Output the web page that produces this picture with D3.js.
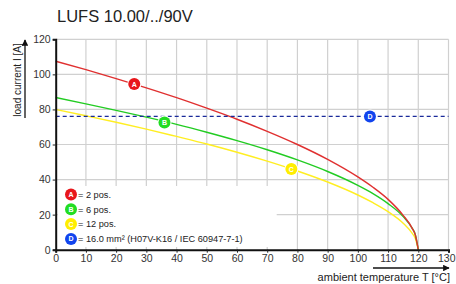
<!DOCTYPE html>
<html><head><meta charset="utf-8">
<script src="https://cdn.jsdelivr.net/npm/d3@7"></script>
<style>body{margin:0;background:#fff;}svg{display:block;font-family:"Liberation Sans",Arial,sans-serif;}</style>
</head><body>
<svg id="c" width="456" height="284"></svg>
<script>
const temps = [0,10,20,30,40,50,60,70,80,90,100,105,110,115,118,119,120];
const red    = [107.5,102.7,97.6,92.3,86.7,80.7,74.4,67.5,60.0,51.5,41.5,35.6,28.7,19.6,12.2,8.5,0];
const green  = [86.8,83.2,79.5,75.6,71.5,67.0,62.2,57.0,51.2,44.6,36.7,32.0,26.3,18.9,12.2,8.7,0];
const yellow = [80,76.4,72.7,68.8,64.6,60.3,55.6,50.5,44.9,38.6,31.2,26.8,21.7,15.1,9.3,6.5,0];
const cableLimit = 76;
const markers = [
  {id:"A", t:26, v:94.5, color:"#e8161b"},
  {id:"B", t:36, v:72.5, color:"#22dd22"},
  {id:"C", t:78, v:46, color:"#ffee00"},
  {id:"D", t:104, v:76, color:"#1144ee"}
];
const legendLabels = ["= 2 pos.","= 6 pos.","= 12 pos.","= 16.0 mm² (H07V-K16 / IEC 60947-7-1)"];
const xTicks = [0,10,20,30,40,50,60,70,80,90,100,110,120,130];
const yTicks = [0,20,40,60,80,100,120];

const svg = d3.select("#c");
const x = d3.scaleLinear().domain([0,130]).range([55.7,448.5]);
const y = d3.scaleLinear().domain([0,120]).range([249.7,39.3]);

// grid
svg.append("g").selectAll("line").data(xTicks.slice(1)).join("line")
  .attr("x1",d=>x(d)).attr("x2",d=>x(d)).attr("y1",y(0)).attr("y2",y(120))
  .attr("stroke","#d0d0d0").attr("stroke-width",1.2);
svg.append("g").selectAll("line").data(yTicks.slice(1)).join("line")
  .attr("x1",x(0)).attr("x2",x(130)).attr("y1",d=>y(d)).attr("y2",d=>y(d))
  .attr("stroke","#d0d0d0").attr("stroke-width",1.2);

// legend background
svg.append("rect").attr("x",x(0)+2).attr("y",186).attr("width",219).attr("height",61).attr("fill","#fff");

// curves
const line = d3.line().x((d,i)=>x(temps[i])).y(d=>y(d)).curve(d3.curveMonotoneX);
[[yellow,"#ffee22"],[green,"#22cc22"],[red,"#e03030"]].forEach(([s,c])=>{
  svg.append("path").attr("d",line(s)).attr("fill","none").attr("stroke",c).attr("stroke-width",1.4);
});
svg.append("line").attr("x1",x(0)).attr("x2",x(130)).attr("y1",y(cableLimit)).attr("y2",y(cableLimit))
  .attr("stroke","#1a2a9a").attr("stroke-width",1.3).attr("stroke-dasharray","4,3");

// axes
const xAxis = d3.axisBottom(x).tickValues(xTicks).tickSize(3).tickPadding(2);
const gx = svg.append("g").attr("transform",`translate(0,${y(0)})`).call(xAxis);
gx.select(".domain").attr("stroke","#111").attr("stroke-width",2);
const yAxis = d3.axisLeft(y).tickValues(yTicks).tickSize(3).tickPadding(2);
const gy = svg.append("g").attr("transform",`translate(${x(0)},0)`).call(yAxis);
gy.select(".domain").attr("stroke","#111").attr("stroke-width",2);
[gx,gy].forEach(g=>{
  g.selectAll(".tick line").attr("stroke","#222");
  g.selectAll(".tick text").attr("font-size",10.5).attr("fill","#333").attr("font-family","Liberation Sans, Arial, sans-serif");
});
gx.selectAll(".tick text").filter(d=>d===130).attr("text-anchor","end").attr("x",455-x(130));

// markers
function marker(g,cx,cy,m){
  g.append("circle").attr("cx",cx).attr("cy",cy).attr("r",7).attr("fill","#fff");
  g.append("circle").attr("cx",cx).attr("cy",cy).attr("r",6).attr("fill",m.color);
  g.append("text").attr("x",cx).attr("y",cy+2.5).attr("text-anchor","middle").attr("font-size",7)
    .attr("font-weight","bold").attr("fill","#fff").text(m.id);
}
markers.forEach(m=>marker(svg,x(m.t),y(m.v),m));

// legend
markers.forEach((m,i)=>{
  const cy = 194.5 + i*14.8;
  marker(svg,71,cy,m);
  svg.append("text").attr("x",78).attr("y",cy+3.3).attr("font-size",9.2).attr("fill","#222").text(legendLabels[i]);
});

// title
svg.append("text").attr("x",57).attr("y",22).attr("font-size",16.5).attr("fill","#222").text("LUFS 10.00/../90V");

// axis labels
svg.append("text").attr("transform","translate(21,80) rotate(-90)").attr("text-anchor","middle")
  .attr("font-size",10).attr("fill","#222").text("load current I [A]");
svg.append("defs").append("marker").attr("id","ah").attr("viewBox","0 0 10 10").attr("refX",9).attr("refY",5)
  .attr("markerWidth",5).attr("markerHeight",5).attr("orient","auto")
  .append("path").attr("d","M0,0L10,5L0,10z").attr("fill","#111");
svg.append("line").attr("x1",25).attr("x2",25).attr("y1",118).attr("y2",40)
  .attr("stroke","#111").attr("stroke-width",1.3).attr("marker-end","url(#ah)");
svg.append("line").attr("x1",373).attr("x2",449).attr("y1",268).attr("y2",268)
  .attr("stroke","#111").attr("stroke-width",1.3).attr("marker-end","url(#ah)");
svg.append("text").attr("x",450).attr("y",281).attr("text-anchor","end")
  .attr("font-size",11).attr("fill","#222").text("ambient temperature T [°C]");
</script>
</body></html>
